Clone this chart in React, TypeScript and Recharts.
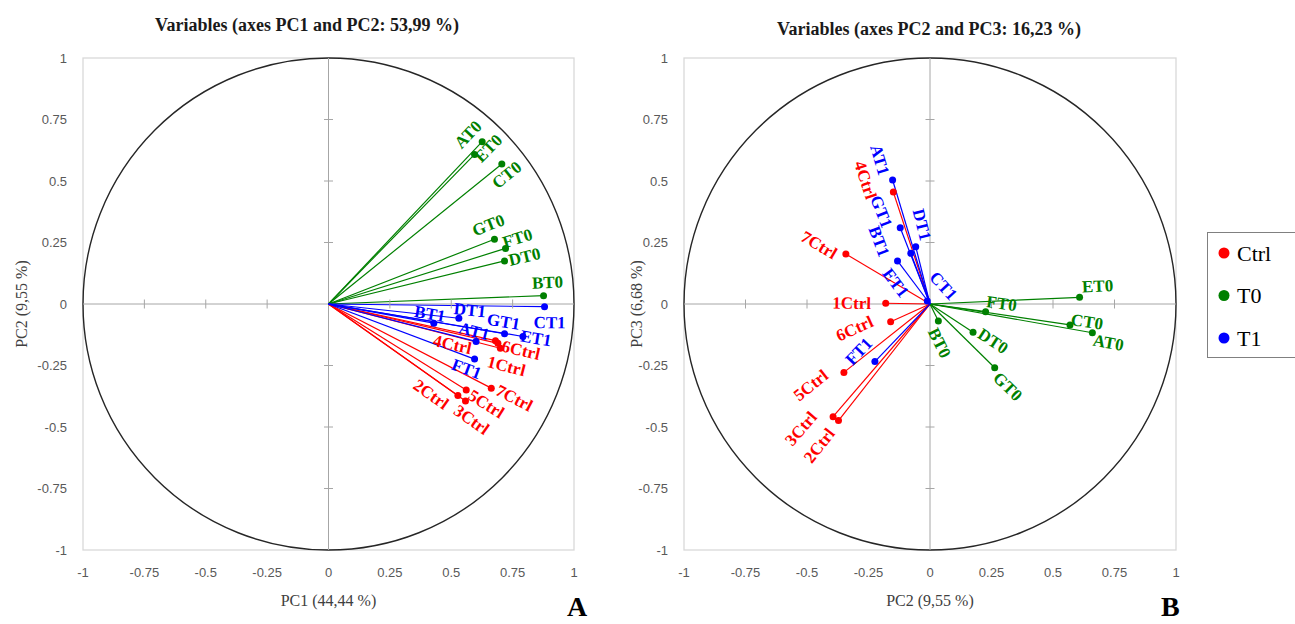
import React from "react";
import {
  ScatterChart,
  Scatter,
  XAxis,
  YAxis,
  ReferenceLine,
  ReferenceArea,
  ReferenceDot,
} from "recharts";

// loadings
const ctrlNames = ["1Ctrl", "2Ctrl", "3Ctrl", "4Ctrl", "5Ctrl", "6Ctrl", "7Ctrl"];
const ctrlPC1 = [0.7, 0.527, 0.558, 0.68, 0.561, 0.69, 0.663];
const ctrlPC2 = [-0.18, -0.372, -0.394, -0.149, -0.35, -0.16, -0.342];
const ctrlPC3 = [0.003, -0.474, -0.458, 0.455, -0.278, -0.072, 0.203];

const t0Names = ["AT0", "BT0", "CT0", "DT0", "ET0", "FT0", "GT0"];
const t0PC1 = [0.626, 0.876, 0.706, 0.717, 0.595, 0.721, 0.676];
const t0PC2 = [0.66, 0.034, 0.569, 0.175, 0.608, 0.226, 0.263];
const t0PC3 = [-0.117, -0.069, -0.085, -0.115, 0.027, -0.031, -0.259];

const t1Names = ["AT1", "BT1", "CT1", "DT1", "ET1", "FT1", "GT1"];
const t1PC1 = [0.601, 0.429, 0.88, 0.531, 0.792, 0.595, 0.717];
const t1PC2 = [-0.152, -0.078, -0.011, -0.058, -0.132, -0.224, -0.121];
const t1PC3 = [0.504, 0.206, 0.012, 0.233, 0.175, -0.234, 0.31];

const axisTicks = [-1, -0.75, -0.5, -0.25, 0, 0.25, 0.5, 0.75, 1];
const crossTicks = [-0.75, -0.5, -0.25, 0.25, 0.5, 0.75];

const groups = ["Ctrl", "T0", "T1"];
const colors: Record<string, string> = { Ctrl: "#ff0000", T0: "#008000", T1: "#0000ff" };

// label placement (pixel offset of label centre from its point)
const leftLabelOffsets: Record<string, [number, number]> = {
  AT0: [-14, -7], ET0: [14, -6], CT0: [5, 11], GT0: [-6, -14], FT0: [12, -10], DT0: [20, -4], BT0: [4, -13],
  DT1: [11, -8], CT1: [5, 16], BT1: [-4, -9], GT1: [-1, -12], AT1: [-2, -10], ET1: [13, 2], FT1: [-8, 10],
  "4Ctrl": [-43, 4], "6Ctrl": [23, 7], "1Ctrl": [6, 18], "7Ctrl": [23, 10], "5Ctrl": [20, 14], "2Ctrl": [-27, -1], "3Ctrl": [6, 19],
};
const rightLabelOffsets: Record<string, [number, number]> = {
  AT1: [-13, -20], GT1: [-19, -16], DT1: [6, -22], BT1: [-32, -12], ET1: [-2, 22], CT1: [16, -15], FT1: [-16, -10],
  "4Ctrl": [-28, -12], "7Ctrl": [-27, -9], "1Ctrl": [-34, 0], "6Ctrl": [-36, 7], "5Ctrl": [-33, 13], "3Ctrl": [-32, 12], "2Ctrl": [-19, 25],
  BT0: [1, 22], ET0: [18, -11], FT0: [16, -8], CT0: [17, -3], AT0: [16, 10], DT0: [20, 9], GT0: [13, 19],
};

type Pt = { name: string; x: number; y: number };
const zip = (names: string[], xs: number[], ys: number[]): Pt[] =>
  names.map((name, i) => ({ name, x: xs[i], y: ys[i] }));

const leftSeries: Record<string, Pt[]> = {
  Ctrl: zip(ctrlNames, ctrlPC1, ctrlPC2),
  T0: zip(t0Names, t0PC1, t0PC2),
  T1: zip(t1Names, t1PC1, t1PC2),
};
const rightSeries: Record<string, Pt[]> = {
  Ctrl: zip(ctrlNames, ctrlPC2, ctrlPC3),
  T0: zip(t0Names, t0PC2, t0PC3),
  T1: zip(t1Names, t1PC2, t1PC3),
};

const serif = "'Liberation Serif', 'Times New Roman', serif";
const sans = "'Liberation Sans', Arial, sans-serif";

const makeShape = (offsets: Record<string, [number, number]>, color: string) => (props: any) => {
  const { cx, cy, payload } = props;
  if (cx == null || cy == null) return <g />;
  const [dx, dy] = offsets[payload.name] || [14, 0];
  let deg = (-Math.atan2(payload.y, payload.x) * 180) / Math.PI;
  if (deg > 90) deg -= 180;
  if (deg < -90) deg += 180;
  const lx = cx + dx;
  const ly = cy + dy;
  return (
    <g>
      <circle cx={cx} cy={cy} r={3.5} fill={color} />
      <text
        x={lx}
        y={ly}
        textAnchor="middle"
        dominantBaseline="central"
        transform={`rotate(${deg.toFixed(1)} ${lx} ${ly})`}
        fill={color}
        fontFamily={serif}
        fontWeight="bold"
        fontSize={17}
      >
        {payload.name}
      </text>
    </g>
  );
};

const frameShape = (props: any) => {
  const { x, y, width, height } = props;
  return (
    <g>
      <rect x={x} y={y} width={width} height={height} fill="none" stroke="#d9d9d9" strokeWidth={1.3} />
      <ellipse cx={x + width / 2} cy={y + height / 2} rx={width / 2} ry={height / 2} fill="none" stroke="#262626" strokeWidth={1.4} />
    </g>
  );
};

const hTick = (p: any) => <line x1={p.cx - 4.5} x2={p.cx + 4.5} y1={p.cy} y2={p.cy} stroke="#a6a6a6" strokeWidth={1} />;
const vTick = (p: any) => <line x1={p.cx} x2={p.cx} y1={p.cy - 4.5} y2={p.cy + 4.5} stroke="#a6a6a6" strokeWidth={1} />;

interface PanelProps {
  series: Record<string, Pt[]>;
  offsets: Record<string, [number, number]>;
  xLabel: string;
  yLabel: string;
  marginLeft: number;
  marginRight: number;
  yLabelOffset: number;
}

const PcaPanel: React.FC<PanelProps> = ({ series, offsets, xLabel, yLabel, marginLeft, marginRight, yLabelOffset }) => (
  <ScatterChart width={600} height={624} margin={{ top: 58, right: marginRight, bottom: 44, left: marginLeft }}>
    <XAxis
      type="number"
      dataKey="x"
      domain={[-1, 1]}
      ticks={axisTicks}
      interval={0}
      allowDataOverflow
      axisLine={false}
      tickLine={false}
      tickSize={6}
      tickMargin={12}
      height={30}
      tick={{ fontSize: 13, fill: "#595959", fontFamily: sans }}
      label={{ value: xLabel, position: "bottom", offset: 15, style: { fontSize: 16, fill: "#404040", fontFamily: serif } }}
    />
    <YAxis
      type="number"
      dataKey="y"
      domain={[-1, 1]}
      ticks={axisTicks}
      interval={0}
      allowDataOverflow
      axisLine={false}
      tickLine={false}
      tickSize={6}
      tickMargin={10}
      width={80}
      tick={{ fontSize: 13, fill: "#595959", fontFamily: sans }}
      label={{
        value: yLabel,
        angle: -90,
        position: "insideLeft",
        offset: yLabelOffset,
        style: { textAnchor: "middle", fontSize: 16, fill: "#404040", fontFamily: serif },
      }}
    />
    <ReferenceArea x1={-1} x2={1} y1={-1} y2={1} shape={frameShape} ifOverflow="visible" />
    <ReferenceLine x={0} stroke="#a6a6a6" strokeWidth={1} />
    <ReferenceLine y={0} stroke="#a6a6a6" strokeWidth={1} />
    {crossTicks.map((t) => (
      <ReferenceDot key={`h${t}`} x={0} y={t} shape={hTick} ifOverflow="visible" />
    ))}
    {crossTicks.map((t) => (
      <ReferenceDot key={`v${t}`} x={t} y={0} shape={vTick} ifOverflow="visible" />
    ))}
    {groups.map((g) =>
      series[g].map((p) => (
        <ReferenceLine
          key={`${g}-${p.name}`}
          segment={[{ x: 0, y: 0 }, { x: p.x, y: p.y }]}
          stroke={colors[g]}
          strokeWidth={1.2}
          ifOverflow="visible"
        />
      ))
    )}
    {groups.map((g) => (
      <Scatter key={g} name={g} data={series[g]} fill={colors[g]} isAnimationActive={false} shape={makeShape(offsets, colors[g])} />
    ))}
  </ScatterChart>
);

const titleStyle: React.CSSProperties = {
  position: "absolute",
  width: 400,
  textAlign: "center",
  fontFamily: serif,
  fontWeight: "bold",
  fontSize: 18,
  lineHeight: "18px",
  color: "#1a1a1a",
};

const letterStyle: React.CSSProperties = {
  position: "absolute",
  fontFamily: serif,
  fontWeight: "bold",
  fontSize: 28,
  lineHeight: "24px",
  color: "#000",
};

export default function App() {
  return (
    <div style={{ position: "absolute", left: 0, top: 0, width: 1295, height: 624, overflow: "hidden", background: "#fff" }}>
      <div style={{ ...titleStyle, left: 107, top: 16 }}>Variables (axes PC1 and PC2: 53,99 %)</div>
      <div style={{ ...titleStyle, left: 729, top: 20 }}>Variables (axes PC2 and PC3: 16,23 %)</div>
      <div style={{ position: "absolute", left: 0, top: 0 }}>
        <PcaPanel
          series={leftSeries}
          offsets={leftLabelOffsets}
          xLabel="PC1 (44,44 %)"
          yLabel="PC2 (9,55 %)"
          marginLeft={3}
          marginRight={26}
          yLabelOffset={18}
        />
      </div>
      <div style={{ position: "absolute", left: 600, top: 0 }}>
        <PcaPanel
          series={rightSeries}
          offsets={rightLabelOffsets}
          xLabel="PC2 (9,55 %)"
          yLabel="PC3 (6,68 %)"
          marginLeft={4}
          marginRight={24}
          yLabelOffset={32}
        />
      </div>
      <div style={{ ...letterStyle, left: 567, top: 595 }}>A</div>
      <div style={{ ...letterStyle, left: 1161, top: 595 }}>B</div>
      <div style={{ position: "absolute", left: 1207, top: 232, width: 110, height: 126, border: "1.5px solid #808080", boxSizing: "border-box" }}>
        <svg width={110} height={126}>
          {groups.map((g, i) => (
            <g key={g}>
              <circle cx={16} cy={20 + i * 42.5} r={5.5} fill={colors[g]} />
              <text x={29} y={20 + i * 42.5} dominantBaseline="central" fontFamily={serif} fontSize={22} fill="#000">
                {g}
              </text>
            </g>
          ))}
        </svg>
      </div>
    </div>
  );
}
